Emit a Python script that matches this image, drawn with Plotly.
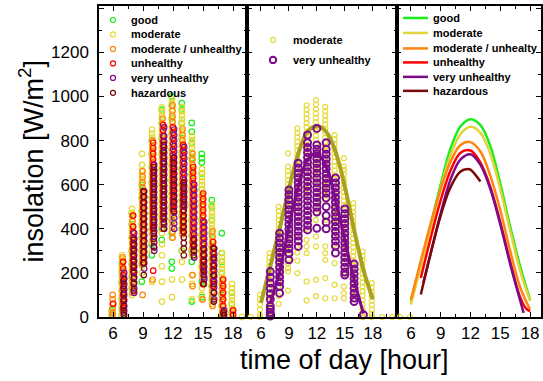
import plotly.graph_objects as go

# ---------------- data ----------------
HOURS_P1 = [6, 7, 8, 9, 10, 11, 12, 13, 14, 15, 16, 17, 18, 19]

good_vals = [
    [30, 10],
    [240, 200, 160, 120, 80, 40, 10],
    [470, 420, 360, 300, 240, 180, 130],
    [600, 540, 480, 420, 360, 300, 240, 160],
    [800, 740, 680, 610, 540, 470, 400, 330, 280],
    [940, 880, 810, 740, 670, 600, 530, 460, 400, 350],
    [1000, 960, 900, 830, 760, 690, 620, 560, 500, 440, 380, 250, 220],
    [970, 940, 880, 810, 740, 670, 600, 530, 460, 400, 300],
    [880, 840, 790, 720, 650, 580, 510, 440, 370, 300, 250, 70],
    [740, 720, 700, 650, 580, 510, 440, 370, 300, 230, 160, 90],
    [530, 500, 440, 380, 320, 260, 200, 140, 80],
    [380, 290, 250, 200, 150, 100, 50, 10],
    [110, 60, 20],
    [],
]
moderate_vals = [
    [10, 25],
    [280, 262, 244, 226, 208, 190, 172, 154, 136, 118, 100, 82, 64, 46, 28, 10],
    [490, 472, 454, 436, 418, 400, 382, 364, 346, 328, 310, 292, 274, 256, 238, 220, 202, 184, 166, 148, 130, 100],
    [740, 690, 662, 644, 626, 608, 590, 572, 554, 536, 518, 500, 482, 464, 446, 428, 410, 392, 374, 356, 338, 320, 302, 284, 266, 248, 230, 200],
    [850, 832, 814, 796, 778, 760, 742, 724, 706, 688, 670, 652, 634, 616, 598, 580, 562, 544, 526, 508, 490, 472, 454, 436, 418, 400, 380, 340, 300, 160],
    [950, 932, 914, 896, 878, 860, 842, 824, 806, 788, 770, 752, 734, 716, 698, 680, 662, 644, 626, 608, 590, 572, 554, 536, 518, 500, 482, 464, 446, 420, 380, 330, 280, 230, 160, 70],
    [990, 972, 954, 936, 918, 900, 882, 864, 846, 828, 810, 792, 774, 756, 738, 720, 702, 684, 666, 648, 630, 612, 594, 576, 558, 540, 522, 504, 486, 468, 450, 430, 410, 390, 360, 170, 90],
    [950, 932, 914, 896, 878, 860, 842, 824, 806, 788, 770, 752, 734, 716, 698, 680, 662, 644, 626, 608, 590, 572, 554, 536, 518, 500, 482, 464, 446, 420, 380, 300, 250, 170],
    [820, 802, 784, 766, 748, 730, 712, 694, 676, 658, 640, 622, 604, 586, 568, 550, 532, 514, 496, 478, 460, 442, 424, 406, 388, 370, 340, 310, 280, 190, 150, 80],
    [670, 652, 634, 616, 598, 580, 562, 544, 526, 508, 490, 472, 454, 436, 418, 400, 382, 364, 346, 328, 310, 292, 274, 256, 238, 220, 190, 130, 100, 80],
    [510, 492, 474, 456, 438, 420, 402, 384, 366, 348, 330, 312, 294, 276, 258, 240, 222, 204, 186, 168, 150, 132, 114, 96, 78, 60],
    [290, 272, 254, 236, 218, 200, 182, 164, 146, 128, 110, 92, 74, 56, 38, 20],
    [150, 130, 112, 94, 76, 58, 40, 22, 10],
    [0],
]
modunh_vals = [
    [100, 80, 60, 40, 20, 10],
    [270, 250, 230, 210, 180, 150, 120, 90, 60, 30],
    [460, 435, 410, 385, 360, 335, 310, 285, 260, 235, 210, 185, 160, 135, 110],
    [660, 635, 610, 585, 560, 535, 510, 485, 460, 435, 410, 385, 360, 335, 310, 285, 260, 240, 100],
    [800, 775, 750, 725, 700, 675, 650, 625, 600, 575, 550, 525, 500, 475, 450, 425, 400, 375, 350, 170],
    [900, 875, 850, 825, 800, 775, 750, 725, 700, 675, 650, 625, 600, 575, 550, 525, 500, 475, 450, 425, 400],
    [960, 935, 910, 885, 860, 835, 810, 785, 760, 735, 710, 685, 660, 635, 610, 585, 560, 535, 510, 485, 460, 435, 410, 385, 360],
    [850, 825, 800, 775, 750, 725, 700, 675, 650, 625, 600, 575, 550, 525, 500, 475, 450, 425, 400, 375],
    [740, 715, 690, 665, 640, 615, 590, 565, 540, 515, 490, 465, 440, 415, 390, 365, 340, 315, 290, 190, 140],
    [550, 525, 500, 475, 450, 425, 400, 375, 350, 325, 300, 275, 250, 225, 200, 175, 150, 80],
    [390, 365, 340, 315, 290, 265, 240, 215, 190, 165, 140, 115, 90, 50],
    [170, 150, 130, 110, 90, 70, 50, 30, 10],
    [30, 10],
    [],
]
unhealthy_vals = [
    [60],
    [250, 220, 190, 160, 130, 100, 70, 40],
    [460, 410, 385, 360, 335, 310, 285, 260, 235, 210],
    [570, 545, 520, 495, 470, 445, 420, 395, 370, 345, 320, 295, 270, 245],
    [790, 765, 740, 715, 690, 665, 640, 615, 590, 565, 540, 515, 490, 465, 440, 415, 400, 210],
    [870, 845, 820, 795, 770, 745, 720, 695, 670, 645, 620, 595, 570, 545, 520, 495, 470, 450],
    [860, 835, 810, 785, 760, 735, 710, 685, 660, 635, 610, 585, 560, 535, 510, 490],
    [780, 755, 730, 705, 680, 655, 630, 605, 580, 555, 530, 505, 480, 455, 430, 405, 390],
    [680, 655, 630, 605, 580, 555, 530, 505, 480, 455, 430, 405, 380, 355, 330],
    [560, 535, 510, 485, 460, 435, 410, 385, 360, 335, 310, 285, 260, 235, 210, 150],
    [340, 315, 290, 265, 240, 215, 190, 165, 140],
    [170, 140, 110, 80, 50, 20],
    [30, 10],
    [],
]
veryunh_vals = [
    [],
    [200, 175, 150, 125, 100, 75, 50, 30, 10],
    [380, 355, 330, 305, 280, 255, 230, 205, 180, 155, 130, 110],
    [570, 545, 520, 495, 470, 445, 420, 395, 370, 345, 320, 295, 270, 245, 220],
    [690, 665, 640, 615, 590, 565, 540, 515, 490, 465, 440, 415, 390, 365, 340, 315, 300],
    [860, 820, 795, 770, 745, 720, 695, 670, 645, 620, 595, 570, 545, 520, 495, 470, 445, 420, 400],
    [850, 825, 800, 775, 750, 725, 700, 675, 650, 625, 600, 575, 550, 525, 500, 475, 450, 425, 400],
    [770, 745, 720, 695, 670, 645, 620, 595, 570, 545, 520, 500],
    [600, 575, 550, 525, 500, 475, 450, 425, 400, 375, 350, 325, 300, 270],
    [430, 405, 380, 355, 330, 305, 280, 255, 230, 205, 180, 170],
    [310, 285, 260, 235, 210, 185, 160, 135, 110, 80],
    [30, 10],
    [],
    [],
]
hazard_vals = [
    [],
    [170, 140, 110, 80, 50, 20, 10],
    [350, 325, 300, 275, 250, 225, 200, 175, 150, 120],
    [570, 545, 520, 495, 470, 445, 420, 395, 370, 345, 320, 295, 270, 245, 190],
    [680, 655, 630, 605, 580, 555, 530, 505, 480, 455, 430, 405, 380, 355, 320],
    [780, 755, 730, 705, 680, 655, 630, 605, 580, 555, 530, 505, 480, 455, 430, 400],
    [720, 695, 670, 645, 620, 595, 570, 545, 520, 480],
    [610, 585, 560, 535, 510, 485, 460, 435, 410, 385, 360, 335, 310, 280],
    [350, 320, 300, 280],
    [310, 280, 250, 220, 190, 150],
    [310, 270, 230, 190, 150, 110, 70],
    [20, 10],
    [],
    [],
]

HOURS_P2 = [5, 6, 7, 8, 9, 10, 11, 12, 13, 14, 15, 16, 17, 18, 19.1, 20.2]
p2_moderate_vals = [
    [0],
    [100, 80, 56, 34, 11, 0],
    [290, 270, 250, 230, 210, 190, 170, 150, 130, 110, 90, 70, 50, 30, 10, 0],
    [500, 480, 460, 440, 420, 400, 380, 360, 340, 320, 300, 280, 260, 240, 220, 200, 180, 160, 140, 95, 60],
    [742, 682, 662, 642, 622, 602, 582, 562, 542, 522, 502, 482, 462, 442, 422, 402, 382, 362, 342, 322, 302, 282, 262, 242, 222, 206, 120],
    [855, 835, 815, 795, 775, 755, 735, 715, 695, 675, 655, 635, 615, 595, 575, 555, 535, 515, 495, 475, 455, 432, 361, 323, 292, 255, 199],
    [960, 940, 920, 900, 880, 860, 840, 820, 800, 780, 760, 740, 720, 700, 680, 660, 640, 620, 600, 580, 560, 531, 486, 440, 400, 350, 320, 290, 161, 75],
    [983, 963, 943, 923, 903, 883, 863, 843, 823, 803, 783, 763, 743, 723, 703, 683, 663, 643, 623, 603, 583, 563, 543, 523, 501, 470, 440, 365, 320, 169, 95],
    [953, 933, 913, 893, 873, 853, 833, 813, 793, 773, 753, 733, 713, 693, 673, 653, 633, 613, 593, 573, 553, 531, 440, 320, 290, 259, 176, 85],
    [825, 805, 785, 765, 745, 725, 705, 685, 665, 645, 625, 605, 585, 565, 545, 525, 505, 485, 465, 445, 425, 395, 365, 327, 244, 146, 85],
    [720, 682, 667, 647, 627, 607, 587, 567, 547, 527, 507, 487, 467, 447, 427, 407, 387, 367, 347, 327, 307, 287, 267, 247, 227, 191, 138, 108, 85],
    [516, 496, 476, 456, 436, 416, 396, 376, 356, 336, 316, 296, 276, 256, 236, 216, 196, 176, 156, 136, 116, 95],
    [297, 277, 257, 237, 217, 197, 177, 157, 137, 117, 97, 77, 57, 37, 17, 0],
    [154, 134, 114, 94, 74, 54, 34, 14, 0],
    [0],
    [0],
]
p2_veryunh_vals = [
    [],
    [],
    [206, 180, 154, 130, 105, 80, 49, 35, 20, 10, 4],
    [380, 358, 336, 314, 292, 270, 248, 226, 204, 182, 160, 138, 108],
    [576, 554, 532, 508, 486, 464, 442, 420, 398, 376, 354, 332, 310, 288, 259],
    [697, 675, 653, 631, 609, 587, 565, 543, 521, 499, 477, 455, 433, 411, 389, 367, 345, 320],
    [825, 790, 768, 746, 724, 702, 680, 658, 636, 614, 592, 570, 548, 526, 504, 482, 460, 438, 416, 395],
    [855, 780, 760, 740, 718, 696, 674, 652, 630, 608, 586, 564, 542, 520, 498, 476, 402],
    [790, 760, 738, 716, 694, 672, 650, 628, 606, 584, 562, 540, 500, 460, 430, 400],
    [630, 608, 586, 564, 542, 520, 498, 476, 454, 432, 410, 388, 366, 344, 322, 290],
    [490, 468, 446, 424, 402, 380, 358, 336, 314, 292, 270, 248, 226, 204, 190],
    [240, 218, 196, 174, 152, 130, 108, 86, 70],
    [10],
    [],
    [],
    [],
]
p2_fit_mod_hours = [6, 7, 8, 9, 10, 11, 12, 13, 14, 15, 16, 17, 18]
p2_fit_mod_vals = [64, 230, 400, 580, 740, 840, 866, 840, 750, 592, 395, 214, 80]
p2_fit_vu_hours = [7, 8, 9, 10, 11, 12, 13, 14, 15, 16, 17]
p2_fit_vu_vals = [64, 206, 410, 591, 712, 742, 682, 531, 350, 169, 16]

p3_night_hours = [4.9, 5.9]
p3_night_vals = [0, 0]

fit_good_hours = [6, 7, 8, 9, 10, 11, 12, 13, 14, 15, 16, 17, 18]
fit_good_vals = [70, 245, 420, 600, 765, 865, 897, 870, 775, 605, 410, 230, 79]
fit_mod_hours = [6, 7, 8, 9, 10, 11, 12, 13, 14, 15, 16, 17, 18]
fit_mod_vals = [56, 230, 405, 585, 735, 830, 862, 835, 740, 580, 390, 210, 72]
fit_modunh_hours = [6, 7, 8, 9, 10, 11, 12, 13, 14, 15, 16, 17, 18]
fit_modunh_vals = [79, 255, 425, 580, 705, 780, 793, 750, 640, 485, 300, 135, 34]
fit_unh_hours = [7, 8, 9, 10, 11, 12, 13, 14, 15, 16, 17, 17.6, 18]
fit_unh_vals = [177, 360, 530, 665, 745, 755, 700, 590, 430, 250, 90, 38, 26]
fit_vu_hours = [7.25, 8, 9, 10, 11, 12, 13, 14, 15, 16, 17, 17.35]
fit_vu_vals = [155, 290, 470, 625, 715, 738, 690, 580, 420, 240, 75, 19]
fit_haz_hours = [7, 8, 9, 10, 11, 11.7, 12, 13]
fit_haz_vals = [102, 290, 460, 590, 660, 671, 668, 614]

CATS = ["good", "moderate", "moderate / unhealthy", "unhealthy", "very unhealthy", "hazardous"]
CATS3 = ["good", "moderate", "moderate / unhealty", "unhealthy", "very unhealthy", "hazardous"]

# ---------------- styles ----------------
GREEN = "#1aee1a"
YELLOW = "#e6d933"
ORANGE = "#ff8410"
RED = "#ff0000"
PURPLE = "#7d0a8a"
BROWN = "#7a0a0a"
OLIVE = "#aaa21e"
YLINE = "#e2d23c"
FONT = "Arial, Liberation Sans, sans-serif"


def expand(hours, vals, off):
    xs, ys = [], []
    for h, vs in zip(hours, vals):
        for v in vs:
            xs.append(h + off)
            ys.append(v)
    return xs, ys


fig = go.Figure()

p1 = [(good_vals, GREEN, -0.12), (moderate_vals, YELLOW, -0.1), (modunh_vals, ORANGE, -0.04),
      (unhealthy_vals, RED, 0.02), (veryunh_vals, PURPLE, 0.12), (hazard_vals, BROWN, 0.08)]
for (vals, col, off), name in zip(p1, CATS):
    xs, ys = expand(HOURS_P1, vals, off)
    fig.add_trace(go.Scatter(x=xs, y=ys, mode="markers", name=name, xaxis="x", yaxis="y",
                             cliponaxis=False,
                             marker=dict(symbol="circle-open", size=5.5, color=col, line=dict(width=1.2, color=col))))

xs, ys = expand(HOURS_P2, p2_moderate_vals, -0.1)
fig.add_trace(go.Scatter(x=xs, y=ys, mode="markers", name="moderate", xaxis="x2", yaxis="y2",
                         cliponaxis=False,
                         marker=dict(symbol="circle-open", size=5, color=YELLOW, line=dict(width=1.2, color=YELLOW))))
fig.add_trace(go.Scatter(x=p2_fit_mod_hours, y=p2_fit_mod_vals, mode="lines", xaxis="x2", yaxis="y2",
                         line=dict(color=OLIVE, width=4, shape="spline"), showlegend=False))
xs, ys = expand(HOURS_P2, p2_veryunh_vals, 0.0)
fig.add_trace(go.Scatter(x=xs, y=ys, mode="markers", name="very unhealthy", xaxis="x2", yaxis="y2",
                         cliponaxis=False,
                         marker=dict(symbol="circle-open", size=7, color=PURPLE, line=dict(width=2, color=PURPLE))))
fig.add_trace(go.Scatter(x=p2_fit_vu_hours, y=p2_fit_vu_vals, mode="lines", xaxis="x2", yaxis="y2",
                         line=dict(color=PURPLE, width=3, shape="spline"), showlegend=False))

fig.add_trace(go.Scatter(x=p3_night_hours, y=p3_night_vals, mode="markers", xaxis="x3", yaxis="y3",
                         cliponaxis=False, showlegend=False,
                         marker=dict(symbol="circle-open", size=5, color=YELLOW, line=dict(width=1.2, color=YELLOW))))
p3 = [(fit_good_hours, fit_good_vals, GREEN), (fit_mod_hours, fit_mod_vals, YLINE),
      (fit_modunh_hours, fit_modunh_vals, ORANGE), (fit_unh_hours, fit_unh_vals, RED),
      (fit_vu_hours, fit_vu_vals, PURPLE), (fit_haz_hours, fit_haz_vals, BROWN)]
for (hx, hv, col), name in zip(p3, CATS3):
    fig.add_trace(go.Scatter(x=hx, y=hv, mode="lines", name=name, xaxis="x3", yaxis="y3",
                             line=dict(color=col, width=2.5, shape="spline")))

# ---------------- layout ----------------
L, R, T, B = 99, 541, 6, 317.5
W = R - L
H = B - T


def px(x):
    return (x - L) / W


def py(y):
    return (B - y) / H


d1 = [0, px(247)]
d2 = [px(247), px(396.5)]
d3 = [px(396.5), 1]

xcommon = dict(showline=True, linecolor="black", linewidth=1.5, mirror="ticks", ticks="inside",
               ticklen=5, tickwidth=1, tickcolor="black", dtick=3, tick0=0,
               minor=dict(ticks="inside", ticklen=3, dtick=1.5, tick0=0, tickcolor="black", tickwidth=1),
               showgrid=False, zeroline=False, ticklabelstandoff=0, automargin=False,
               tickfont=dict(size=17, family=FONT, color="black"))
ycommon = dict(showline=True, linecolor="black", linewidth=1.5, mirror="ticks", ticks="inside",
               ticklen=5, tickwidth=1, tickcolor="black", dtick=200, tick0=0, range=[0, 1410],
               minor=dict(ticks="inside", ticklen=3, dtick=100, tickcolor="black", tickwidth=1),
               showgrid=False, zeroline=False, automargin=False,
               tickfont=dict(size=17, family=FONT, color="black"))

fig.update_layout(
    width=543, height=381, margin=dict(l=L, r=543 - R, t=T, b=381 - B),
    paper_bgcolor="white", plot_bgcolor="white", showlegend=False,
    xaxis=dict(domain=d1, range=[4.6, 19.4], anchor="y", **xcommon),
    xaxis2=dict(domain=d2, range=[4.5, 20.55], anchor="y2", **xcommon),
    xaxis3=dict(domain=d3, range=[4.55, 19.1], anchor="y3", **xcommon),
    yaxis=dict(anchor="x", ticklabelstandoff=5, **ycommon),
    yaxis2=dict(anchor="x2", showticklabels=False, matches="y", **ycommon),
    yaxis3=dict(anchor="x3", showticklabels=False, matches="y", **ycommon),
    font=dict(family=FONT, color="black"),
)

ann = []
shapes = []
ann.append(dict(text="time of day [hour]", xref="paper", yref="paper", x=px(344), y=py(361),
                xanchor="center", yanchor="middle", showarrow=False, font=dict(size=27, family=FONT)))
ann.append(dict(text="insolation [W/m<sup>2</sup>]", xref="paper", yref="paper", x=px(31), y=0.5,
                xanchor="center", yanchor="middle", textangle=-90, showarrow=False,
                font=dict(size=27, family=FONT)))

# legend panel 1
leg1_y = [20, 34.5, 49, 63.5, 78, 93]
for name, (vals, col, off), yy in zip(CATS, p1, leg1_y):
    shapes.append(dict(type="circle", xref="paper", yref="paper", xsizemode="pixel", ysizemode="pixel",
                       xanchor=px(113), yanchor=py(yy), x0=-2.5, x1=2.5, y0=-2.5, y1=2.5,
                       line=dict(color=col, width=1.2)))
    ann.append(dict(text="<b>" + name + "</b>", xref="paper", yref="paper", x=px(129), y=py(yy),
                    xanchor="left", yanchor="middle", showarrow=False, font=dict(size=11, family=FONT)))

# legend panel 2
for name, col, yy, sz, lw in [("moderate", YELLOW, 40, 2.5, 1.2), ("very unhealthy", PURPLE, 60, 3.2, 2)]:
    shapes.append(dict(type="circle", xref="paper", yref="paper", xsizemode="pixel", ysizemode="pixel",
                       xanchor=px(273), yanchor=py(yy), x0=-sz, x1=sz, y0=-sz, y1=sz,
                       line=dict(color=col, width=lw)))
    ann.append(dict(text="<b>" + name + "</b>", xref="paper", yref="paper", x=px(291), y=py(yy),
                    xanchor="left", yanchor="middle", showarrow=False, font=dict(size=11, family=FONT)))

# legend panel 3
leg3_y = [18, 33, 48.5, 62.5, 77, 91]
for name, (hx, hv, col), yy in zip(CATS3, p3, leg3_y):
    shapes.append(dict(type="line", xref="paper", yref="paper", x0=px(403), x1=px(428), y0=py(yy), y1=py(yy),
                       line=dict(color=col, width=2.5)))
    ann.append(dict(text="<b>" + name + "</b>", xref="paper", yref="paper", x=px(430.5), y=py(yy),
                    xanchor="left", yanchor="middle", showarrow=False, font=dict(size=11, family=FONT)))

fig.update_layout(annotations=ann, shapes=shapes)
fig.write_html("out.html", config={"displayModeBar": False},
               post_script="document.body.style.margin='0px';document.body.style.overflow='hidden';")
